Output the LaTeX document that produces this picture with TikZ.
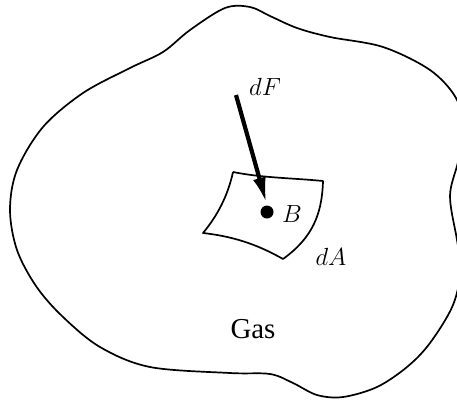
\documentclass[tikz,border=0pt]{standalone}
\usepackage{fontspec}
\setmainfont{Liberation Serif}
\usetikzlibrary{arrows.meta, calc}
\tikzset{
    >={Latex[length=26bp,width=13bp]}, % bold triangular head
    outline/.style={line width=1.7bp, line join=round},
    label/.style={font=\fontsize{29}{34}\selectfont, inner sep=0pt, anchor=base},
    point/.style={circle, fill, inner sep=0pt, minimum size=13bp},
    force/.style={->, line width=4.2bp, shorten >=2bp}
}

\begin{document}
\begin{tikzpicture}[x=1bp, y=-1bp]
    \useasboundingbox (0,0) rectangle (457,399);
    \clip (0,0) rectangle (457,399);

    % gas region
    \draw[outline] plot[smooth cycle, tension=0.55] coordinates {
        (225,8) (250,7) (270,16) (297,28) (330,37) (383,47) (430,70)
        (456,98) (464,130) (458,162) (450,196) (457,240) (461,268)
        (453,305) (430,343) (407,367) (377,387) (343,397) (317,395)
        (293,383) (270,374) (230,373) (150,367) (100,347) (62,316)
        (36,286) (17,250) (10,210) (17,170) (43,127) (83,93) (130,68)
        (163,52) (190,30)};

    % surface element
    \coordinate (c1) at (233,172);
    \coordinate (c2) at (323,181);
    \coordinate (c3) at (283,259);
    \coordinate (c4) at (203,233);
    \draw[outline] (c1) .. controls (263,178) and (293,178) .. (c2)
        .. controls (322,215) and (312,238) .. (c3)
        .. controls (255,243) and (230,236) .. (c4)
        .. controls (218,215) and (228,195) .. (c1);

    \node[point] (B) at (267,212) {};
    \coordinate (tail) at (236,95);
    \draw[force] (tail) -- (B.north);

    \node[label] (dF) at (265,95) {$dF$};
    \node[label] (Blab) at (292,222) {$B$};
    \node[label] (dA) at (331,265) {$dA$};
    \node[label] (gas) at (253,338) {Gas};
\end{tikzpicture}
\end{document}
